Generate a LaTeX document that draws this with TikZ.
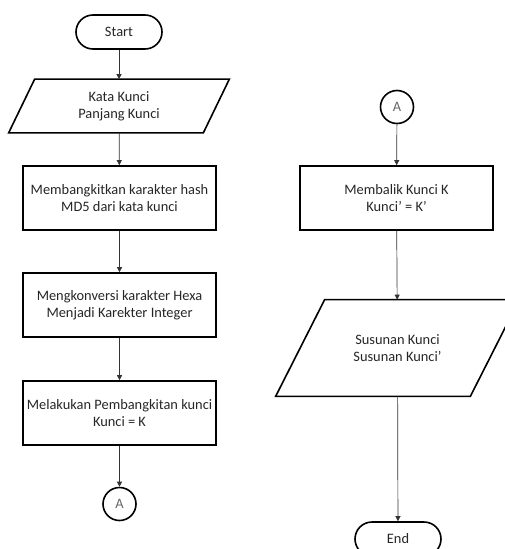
\documentclass[tikz,border=0pt]{standalone}
\usepackage{fontspec}
\setmainfont{Carlito}
\usepackage{tikz}
\usetikzlibrary{arrows.meta}

\begin{document}
\begin{tikzpicture}[
    x=1pt, y=1pt,
    ->, % arrows point down to the next step
    >={Triangle[length=5pt, width=5pt]}, % arrow tip style
    line width=0.7pt, draw=black!80,
    every node/.style={font=\fontsize{14.4}{17}\selectfont, text=black!85, align=center},
    terminal/.style={draw=black, line width=1.6pt, rounded corners=17pt, minimum width=86, minimum height=34},
    process/.style={draw=black, line width=1.6pt, minimum width=193, minimum height=64},
    io/.style={minimum width=194}, % parallelogram drawn round it below
    connector/.style={circle, draw=black, line width=1.6pt, minimum size=33, inner sep=0pt, text=black!60}
]
\clip (0,0) rectangle (505,-549);

% Define the nodes
\node[terminal] (start) at (119, -32) {Start};
\node[io, minimum height=53] (input) at (119, -106) {Kata Kunci\\Panjang Kunci};
\node[process] (hash) at (119.5, -198) {Membangkitkan karakter hash\\MD5 dari kata kunci};
\node[process] (konversi) at (119.5, -305) {Mengkonversi karakter Hexa\\Menjadi Karekter Integer};
\node[process] (bangkit) at (119.5, -413) {Melakukan Pembangkitan kunci\\Kunci = K};
\node[connector] (A1) at (119.5, -504) {A};

\node[connector] (A2) at (397, -107) {A};
\node[process] (balik) at (396.5, -198) {Membalik Kunci K\\Kunci’ = K’};
\node[io, minimum height=96] (output) at (397.5, -348) {Susunan Kunci\\Susunan Kunci’};
\node[terminal] (end) at (398, -539) {End};

% Parallelogram outlines
\draw[-, draw=black, line width=1.6pt, line join=miter]
    ([xshift=13]input.north west) -- ([xshift=13]input.north east)
    -- ([xshift=-13]input.south east) -- ([xshift=-13]input.south west) -- cycle;
\draw[-, draw=black, line width=1.6pt, line join=miter]
    ([xshift=24.5]output.north west) -- ([xshift=24.5]output.north east)
    -- ([xshift=-24.5]output.south east) -- ([xshift=-24.5]output.south west) -- cycle;

% Define the directed edges
\draw (start) edge (input);
\draw (input) edge (hash);
\draw (hash) edge (konversi);
\draw (konversi) edge (bangkit);
\draw (bangkit) edge (A1);
\draw (A2) edge (balik);
\draw (balik) edge (output);
\draw (output) edge (end);

\end{tikzpicture}
\end{document}
